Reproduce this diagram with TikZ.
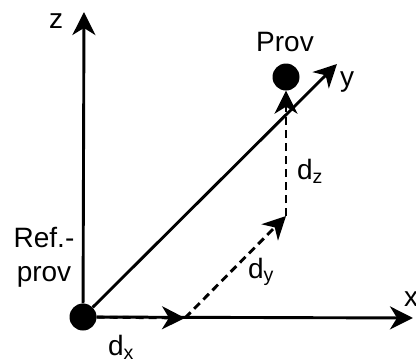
\documentclass[tikz,border=0pt]{standalone}
\usepackage{fontspec}
\setmainfont{Liberation Sans}
\usetikzlibrary{arrows.meta}
\begin{document}
\begin{tikzpicture}[x=1pt,y=-1pt,
  dot/.style={circle,fill=black,inner sep=0pt,minimum size=27pt},
  lbl/.style={inner sep=0pt,font=\fontsize{28}{34}\selectfont},
  axis/.style={line width=2.9pt,-{Stealth[length=23pt,width=23pt,inset=7pt]}},
  comp/.style={axis,dash pattern=on 8pt off 5pt}]
\useasboundingbox (0,0) rectangle (416,362);
\node[dot] (O) at (83,317) {};
\node[dot] (P) at (286,77) {};
\coordinate (zend) at (84,12);
\coordinate (xend) at (413,318);
\coordinate (yend) at (337,64);
\coordinate (dxend) at (185,318);
\coordinate (dyend) at (286,216);
\draw[axis] (O) -- (zend);
\draw[axis] (O) -- (xend);
\draw[axis] (O) -- (yend);
\draw[comp] (O) -- (dxend);
\draw[comp] (dxend) -- (dyend);
\draw[comp] (dyend) -- (P);
\node[lbl] (zl) at (56,21) {z};
\node[lbl] (xl) at (411,299) {x};
\node[lbl] (yl) at (347,82) {y};
\node[lbl] (pl) at (285,42) {Prov};
\node[lbl,align=center] (rl) at (44,257) {Ref.-\\prov};
\node[lbl] (dxl) at (121,347) {d\textsubscript{x}};
\node[lbl] (dyl) at (261,272) {d\textsubscript{y}};
\node[lbl] (dzl) at (310,171) {d\textsubscript{z}};
\end{tikzpicture}
\end{document}
